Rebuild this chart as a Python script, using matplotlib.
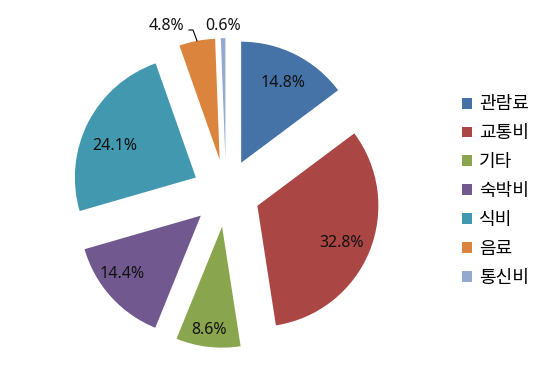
import numpy as np
import matplotlib
matplotlib.use('Agg')
import matplotlib.pyplot as plt

plt.rcParams['font.family'] = ['Noto Sans CJK KR', 'DejaVu Sans']

labels = ['관람료', '교통비', '기타', '숙박비', '식비', '음료', '통신비']
shares = [14.8, 32.8, 8.6, 14.4, 24.1, 4.8, 0.6]
colors = ['#4572A7', '#AA4643', '#89A54E', '#71588F', '#4198AF', '#DB843D', '#93A9CF']

# label placement: distance (fraction of radius) and angle nudge (deg) per slice
lab_r = [0.745, 0.76, 0.86, 0.81, 0.72, 1.19, 1.10]
lab_da = [-1, -1.5, -0.4, -5.6, 6.3, 10.8, 0]

W, H = 547, 388
fig = plt.figure(figsize=(W / 100, H / 100), dpi=100)
ax = fig.add_axes([0, 0, 1, 1])

R = 121
cx, cy = 226, H - 193
gap = 0.28 * R

wedges, _ = ax.pie(shares, colors=colors, startangle=90, counterclock=False,
                   radius=R, center=(cx, cy), explode=[gap] * len(shares),
                   frame=True, wedgeprops=dict(linewidth=0))

num_font = ['Noto Sans', 'DejaVu Sans']
for w, v, fr, da in zip(wedges, shares, lab_r, lab_da):
    a = np.deg2rad((w.theta1 + w.theta2) / 2 + da)
    wx, wy = w.center
    ax.text(wx + fr * R * np.cos(a), wy + fr * R * np.sin(a), f'{v}%', family=num_font,
            ha='center', va='center', fontsize=11.5, color='#111111')

# leader line for 4.8%
w = wedges[5]
mid = np.deg2rad((w.theta1 + w.theta2) / 2)
ex, ey = w.center[0] + R * np.cos(mid), w.center[1] + R * np.sin(mid)
ax.plot([189, 193, ex], [H - 30, H - 30, ey], color='black', linewidth=0.8)

ax.set_xlim(0, W)
ax.set_ylim(0, H)
ax.axis('off')

ax.legend(wedges, labels, loc='center left', bbox_to_anchor=(462 / W, (H - 191) / H),
          bbox_transform=fig.transFigure, frameon=False, fontsize=13,
          handlelength=0.55, handleheight=0.55, handletextpad=0.4,
          labelspacing=0.6, borderpad=0, borderaxespad=0)

fig.savefig('out.png', dpi=100, facecolor='white')
